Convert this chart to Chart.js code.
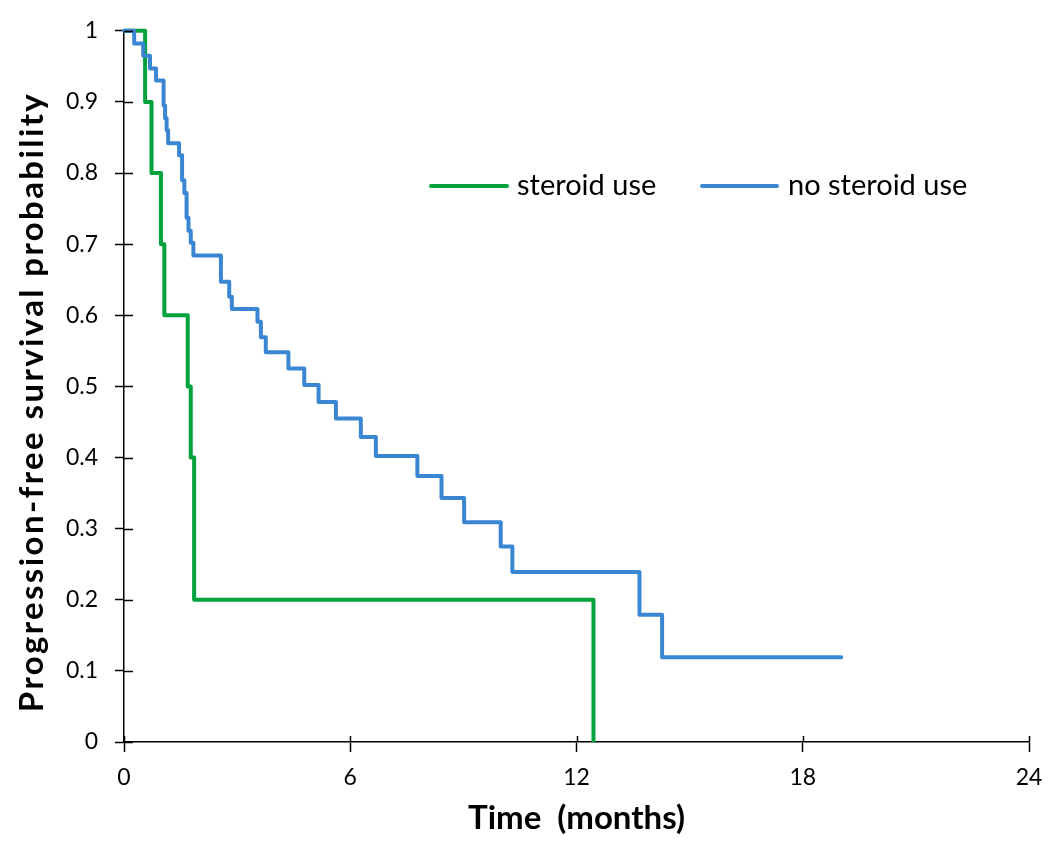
<!DOCTYPE html>
<html>
<head>
<meta charset="utf-8">
<script src="https://cdn.jsdelivr.net/npm/chart.js@4.4.0/dist/chart.umd.min.js"></script>
<style>
  html, body { margin: 0; padding: 0; background: #fff; }
  canvas { display: block; }
</style>
</head>
<body>
<canvas id="km" width="1057" height="841"></canvas>
<script>
// Kaplan-Meier steps: time (months) of each drop and the survival after it
const steroidTimes = [0, 0.56, 0.73, 0.98, 1.07, 1.69, 1.77, 1.86, 12.45];
const steroidSurv = [1, 0.9, 0.8, 0.7, 0.6, 0.5, 0.4, 0.2, 0];

const noSteroidTimes = [0, 0.27, 0.51, 0.69, 0.85, 1.05, 1.09, 1.13, 1.17, 1.46, 1.54,
  1.6, 1.66, 1.71, 1.77, 1.84, 2.57, 2.79, 2.86, 3.54, 3.63, 3.76, 4.36, 4.78, 5.16,
  5.62, 6.28, 6.68, 7.78, 8.42, 9.02, 9.99, 10.3, 13.67, 14.27, 19.02];
const noSteroidSurv = [1, 0.982, 0.965, 0.947, 0.93, 0.895, 0.877, 0.86, 0.842, 0.825, 0.79,
  0.772, 0.737, 0.719, 0.702, 0.684, 0.647, 0.626, 0.609, 0.591, 0.569, 0.548, 0.525, 0.502, 0.478,
  0.455, 0.429, 0.402, 0.374, 0.343, 0.309, 0.275, 0.239, 0.179, 0.119, 0.119];

const xTickLabels = ["0", "6", "12", "18", "24"];
const yTickLabels = ["0", "0.1", "0.2", "0.3", "0.4", "0.5", "0.6", "0.7", "0.8", "0.9", "1"];
const seriesLabels = ["steroid use", "no steroid use"];
const seriesColors = ["#00a23c", "#3b86d2"];

const xTitle = "Time  (months)";
const yTitle = "Progression-free survival probability";

const FONT = "Lato, 'Open Sans', sans-serif";
Chart.defaults.font.family = FONT;
Chart.defaults.color = "#000";

function toPoints(xs, ys) {
  return xs.map((x, i) => ({ x: x, y: ys[i] }));
}

//------------------------------------------------------
// small helpers drawn on top: inner half of the cross ticks,
// rotated y title, and the in-plot legend
//------------------------------------------------------
const extras = {
  id: "extras",
  afterDraw(chart) {
    const c = chart.ctx;
    const xs = chart.scales.x;
    const ys = chart.scales.y;
    const area = chart.chartArea;
    c.save();
    c.strokeStyle = "#000";
    c.lineWidth = 1.5;
    xs.ticks.forEach((t) => {
      const px = Math.round(xs.getPixelForValue(t.value)) + 0.5;
      c.beginPath();
      c.moveTo(px, area.bottom);
      c.lineTo(px, area.bottom - 6);
      c.stroke();
    });
    ys.ticks.forEach((t) => {
      const py = Math.round(ys.getPixelForValue(t.value)) + 0.5;
      c.beginPath();
      c.moveTo(area.left, py);
      c.lineTo(area.left + 9, py);
      c.stroke();
    });

    // y axis title
    c.fillStyle = "#000";
    c.font = "bold 33px " + FONT;
    c.letterSpacing = "2.4px";
    c.textAlign = "center";
    c.textBaseline = "middle";
    c.translate(32, 402);
    c.rotate(-Math.PI / 2);
    c.fillText(yTitle, 0, 0);
    c.restore();

    // legend
    c.save();
    c.font = "29px " + FONT;
    c.textBaseline = "middle";
    c.textAlign = "left";
    c.lineWidth = 4;
    c.lineCap = "round";
    const legendItems = [
      { x0: 431, x1: 507, tx: 517 },
      { x0: 702, x1: 777, tx: 788 },
    ];
    legendItems.forEach((it, i) => {
      c.strokeStyle = seriesColors[i];
      c.beginPath();
      c.moveTo(it.x0, 186);
      c.lineTo(it.x1, 186);
      c.stroke();
      c.fillStyle = "#000";
      c.fillText(seriesLabels[i], it.tx, 186);
    });
    c.restore();
  },
};

new Chart(document.getElementById("km"), {
  type: "line",
  data: {
    datasets: [
      {
        label: seriesLabels[0],
        data: toPoints(steroidTimes, steroidSurv),
        borderColor: seriesColors[0],
        backgroundColor: seriesColors[0],
        borderWidth: 4,
        stepped: true,
        pointRadius: 0,
        fill: false,
        clip: 6,
        order: 1,
        borderJoinStyle: "round",
      },
      {
        label: seriesLabels[1],
        data: toPoints(noSteroidTimes, noSteroidSurv),
        borderColor: seriesColors[1],
        backgroundColor: seriesColors[1],
        borderWidth: 4,
        stepped: true,
        pointRadius: 0,
        fill: false,
        clip: 6,
        order: 0,
        borderJoinStyle: "round",
        borderCapStyle: "round",
      },
    ],
  },
  options: {
    responsive: false,
    animation: false,
    layout: { padding: { top: 18, right: 28, bottom: 0, left: 0 } },
    plugins: {
      legend: { display: false },
      tooltip: { enabled: false },
    },
    scales: {
      x: {
        type: "linear",
        min: 0,
        max: 24,
        afterFit: (s) => { s.height = 99; },
        border: { display: true, color: "#000", width: 1.5 },
        grid: {
          drawOnChartArea: false,
          drawTicks: true,
          tickLength: 10,
          tickColor: "#000",
          tickWidth: 1.5,
        },
        ticks: {
          stepSize: 6,
          autoSkip: false,
          maxRotation: 0,
          padding: 12,
          font: { size: 23 },
          callback: (v, i) => xTickLabels[i],
        },
        title: {
          display: true,
          text: xTitle,
          font: { size: 33, weight: "bold" },
          padding: { top: 0, bottom: 3 },
        },
      },
      y: {
        min: 0,
        max: 1,
        afterFit: (s) => { s.width = 124; },
        border: { display: true, color: "#000", width: 1.5 },
        grid: {
          drawOnChartArea: false,
          drawTicks: true,
          tickLength: 9,
          tickColor: "#000",
          tickWidth: 1.5,
        },
        ticks: {
          stepSize: 0.1,
          autoSkip: false,
          padding: 17,
          font: { size: 23 },
          callback: (v, i) => yTickLabels[i],
        },
      },
    },
  },
  plugins: [extras],
});
</script>
</body>
</html>
